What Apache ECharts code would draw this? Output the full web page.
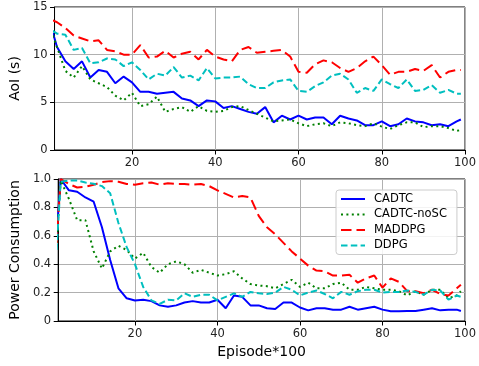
<!DOCTYPE html>
<html>
<head>
<meta charset="utf-8">
<script src="https://cdn.jsdelivr.net/npm/echarts@6/dist/echarts.min.js"></script>
<style>
  html, body { margin: 0; padding: 0; background: #fff; }
  #chart { width: 479px; height: 366px; }
</style>
</head>
<body>
<div id="chart"></div>
<script>
// x positions (Episode*100)
const episodes = [1, 2, 4, 6, 8, 10, 12, 14, 16, 18, 20, 22, 24, 26, 28, 30, 32, 34, 36, 38, 40,
  42, 44, 46, 48, 50, 52, 54, 56, 58, 60, 62, 64, 66, 68, 70, 72, 74, 76, 78, 80,
  82, 84, 86, 88, 90, 92, 94, 96, 98, 99];

const seriesNames = ['CADTC', 'CADTC-noSC', 'MADDPG', 'DDPG'];
const xTicks = [20, 40, 60, 80, 100];

// AoI (s)
const aoiCadtc = [12.3, 10.8, 9.3, 8.5, 9.3, 7.6, 8.4, 8.2, 7.0, 7.7, 7.1, 6.1, 6.1, 5.9, 6.0, 6.1, 5.4, 5.2, 4.6, 5.2, 5.1,
  4.4, 4.6, 4.3, 4.0, 3.8, 4.5, 2.9, 3.6, 3.2, 3.6, 3.2, 3.4, 3.4, 2.7, 3.6, 3.3, 3.1, 2.6, 2.6, 3.0,
  2.5, 2.7, 3.3, 3.0, 2.9, 2.6, 2.7, 2.5, 3.0, 3.2];
const aoiNoSC = [12.0, 10.8, 8.3, 7.6, 8.8, 7.4, 7.0, 6.6, 5.7, 5.2, 6.0, 4.6, 4.8, 5.6, 4.0, 4.3, 4.5, 4.0, 4.6, 4.1, 4.0,
  4.1, 4.5, 4.6, 4.2, 3.8, 3.4, 3.0, 3.1, 3.2, 2.8, 2.5, 2.7, 2.8, 2.5, 2.9, 2.8, 2.6, 2.5, 2.8, 2.45,
  2.2, 2.6, 2.9, 2.9, 2.4, 2.5, 2.5, 2.3, 2.0, 2.1];
const aoiMaddpg = [13.6, 13.4, 12.8, 12.0, 11.7, 11.4, 11.5, 10.5, 10.35, 10.0, 10.0, 11.0, 9.7, 9.8, 10.4, 9.7, 10.1, 10.3, 9.5, 10.5, 9.8,
  9.5, 9.3, 10.5, 10.8, 10.2, 10.3, 10.4, 10.5, 9.8, 8.2, 8.1, 9.0, 9.4, 9.2, 8.6, 8.2, 8.6, 9.3, 9.8, 8.9,
  7.9, 8.2, 8.2, 8.5, 8.3, 8.9, 7.6, 8.2, 8.4, 8.4];
const aoiDdpg = [12.5, 12.2, 12.1, 10.5, 10.7, 9.1, 9.2, 9.6, 9.5, 8.8, 9.2, 8.4, 7.4, 8.0, 7.8, 8.7, 7.6, 7.8, 7.3, 8.6, 7.5,
  7.6, 7.6, 7.7, 6.9, 6.5, 6.5, 7.1, 7.3, 7.4, 6.2, 6.1, 6.7, 7.1, 7.8, 8.0, 7.4, 6.0, 6.5, 6.2, 7.4,
  6.9, 6.5, 7.4, 6.2, 6.3, 6.8, 6.0, 6.3, 5.9, 5.9];

// Power Consumption
const powCadtc = [0.60, 1.0, 0.92, 0.91, 0.87, 0.84, 0.66, 0.43, 0.23, 0.16, 0.145, 0.15, 0.14, 0.11, 0.10, 0.11, 0.13, 0.14, 0.13, 0.13, 0.15,
  0.09, 0.18, 0.17, 0.11, 0.11, 0.09, 0.085, 0.13, 0.13, 0.095, 0.075, 0.09, 0.09, 0.08, 0.08, 0.10, 0.08, 0.09, 0.10, 0.08,
  0.068, 0.068, 0.07, 0.07, 0.08, 0.09, 0.075, 0.08, 0.08, 0.07];
const powNoSC = [0.55, 0.99, 0.86, 0.71, 0.71, 0.49, 0.37, 0.49, 0.53, 0.50, 0.44, 0.48, 0.38, 0.34, 0.40, 0.42, 0.40, 0.34, 0.36, 0.34, 0.32,
  0.33, 0.35, 0.30, 0.26, 0.25, 0.245, 0.23, 0.26, 0.29, 0.24, 0.27, 0.23, 0.23, 0.26, 0.27, 0.22, 0.22, 0.24, 0.23, 0.22,
  0.22, 0.21, 0.18, 0.21, 0.185, 0.22, 0.22, 0.16, 0.18, 0.21];
const powMaddpg = [0.55, 1.0, 0.965, 0.94, 0.945, 0.96, 0.978, 0.985, 0.98, 0.965, 0.96, 0.97, 0.975, 0.96, 0.97, 0.965, 0.965, 0.96, 0.965, 0.95, 0.92,
  0.895, 0.87, 0.88, 0.87, 0.74, 0.66, 0.61, 0.55, 0.49, 0.44, 0.39, 0.355, 0.35, 0.32, 0.32, 0.325, 0.27, 0.30, 0.32, 0.235,
  0.30, 0.275, 0.21, 0.21, 0.195, 0.22, 0.19, 0.18, 0.23, 0.255];
const powDdpg = [0.50, 0.98, 0.99, 0.99, 0.975, 0.967, 0.95, 0.90, 0.69, 0.52, 0.40, 0.24, 0.145, 0.12, 0.15, 0.145, 0.195, 0.17, 0.185, 0.185, 0.145,
  0.17, 0.195, 0.17, 0.205, 0.195, 0.19, 0.20, 0.24, 0.22, 0.18, 0.20, 0.215, 0.19, 0.16, 0.205, 0.185, 0.21, 0.22, 0.22, 0.20,
  0.205, 0.205, 0.215, 0.205, 0.185, 0.22, 0.215, 0.15, 0.18, 0.17];

const colors = ['#0000ff', '#008000', '#ff0000', '#00bfbf'];
const dashes = ['solid', [2, 3.4], [10.5, 5], [6.5, 3.3]];

const font = 'DejaVu Sans';

function pairs(ys) {
  return episodes.map((e, i) => [e, ys[i]]);
}

function makeLine(name, ys, idx, k) {
  return {
    name: name,
    type: 'line',
    xAxisIndex: idx,
    yAxisIndex: idx,
    data: pairs(ys),
    symbol: 'none',
    showSymbol: false,
    silent: true,
    lineStyle: { color: colors[k], width: 2, type: dashes[k], cap: 'butt' },
    itemStyle: { color: colors[k] },
    z: 2 + k
  };
}

function xAxisFor(idx, withName) {
  return {
    type: 'value',
    gridIndex: idx,
    min: 1.4,
    max: 100,
    name: withName ? 'Episode*100' : '',
    nameLocation: 'middle',
    nameGap: 24,
    nameTextStyle: { fontFamily: font, fontSize: 14, color: '#000' },
    axisLine: { show: true, lineStyle: { color: '#000', width: 1 } },
    axisTick: { show: true, customValues: xTicks, length: 4.5, lineStyle: { color: '#000' } },
    axisLabel: { customValues: xTicks, margin: 7, fontFamily: font, fontSize: 11.5, color: '#222' },
    splitLine: { show: true, lineStyle: { color: '#b0b0b0', width: 1 } }
  };
}

function yAxisFor(idx, name, max, interval, gap) {
  return {
    type: 'value',
    gridIndex: idx,
    min: 0,
    max: max,
    interval: interval,
    name: name,
    nameLocation: 'middle',
    nameGap: gap,
    nameTextStyle: { fontFamily: font, fontSize: 14, color: '#000' },
    axisLine: { show: true, lineStyle: { color: '#000', width: 1 } },
    axisTick: { show: true, length: 4.5, lineStyle: { color: '#000' } },
    axisLabel: {
      margin: 7, fontFamily: font, fontSize: 11.5, color: '#222',
      formatter: v => (v === 0 ? '0' : (max > 2 ? String(v) : v.toFixed(1)))
    },
    splitLine: { show: true, lineStyle: { color: '#b0b0b0', width: 1 } }
  };
}

const chart = echarts.init(document.getElementById('chart'), null, { renderer: 'canvas' });

chart.setOption({
  animation: false,
  backgroundColor: '#fff',
  textStyle: { fontFamily: font },
  grid: [
    { left: 47, right: 11, top: 7, height: 143, show: true, borderColor: '#000', borderWidth: 1 },
    { left: 47, right: 11, top: 179, height: 142, show: true, borderColor: '#000', borderWidth: 1 }
  ],
  xAxis: [xAxisFor(0, false), xAxisFor(1, true)],
  yAxis: [yAxisFor(0, 'AoI (s)', 15, 5, 19), yAxisFor(1, 'Power Consumption', 1, 0.2, 28)],
  legend: {
    data: seriesNames,
    orient: 'vertical',
    left: 336,
    top: 190,
    padding: [3, 10, 3, 4],
    itemWidth: 24,
    itemHeight: 14,
    itemGap: 3.5,
    itemStyle: { opacity: 0 },
    backgroundColor: 'rgba(255,255,255,0.85)',
    borderColor: '#cccccc',
    borderWidth: 1,
    borderRadius: 3,
    textStyle: { fontFamily: font, fontSize: 11.5, color: '#000', padding: [0, 0, 0, 4] }
  },
  series: [
    makeLine(seriesNames[0], aoiCadtc, 0, 0),
    makeLine(seriesNames[1], aoiNoSC, 0, 1),
    makeLine(seriesNames[2], aoiMaddpg, 0, 2),
    makeLine(seriesNames[3], aoiDdpg, 0, 3),
    makeLine(seriesNames[0], powCadtc, 1, 0),
    makeLine(seriesNames[1], powNoSC, 1, 1),
    makeLine(seriesNames[2], powMaddpg, 1, 2),
    makeLine(seriesNames[3], powDdpg, 1, 3)
  ]
});
</script>
</body>
</html>
